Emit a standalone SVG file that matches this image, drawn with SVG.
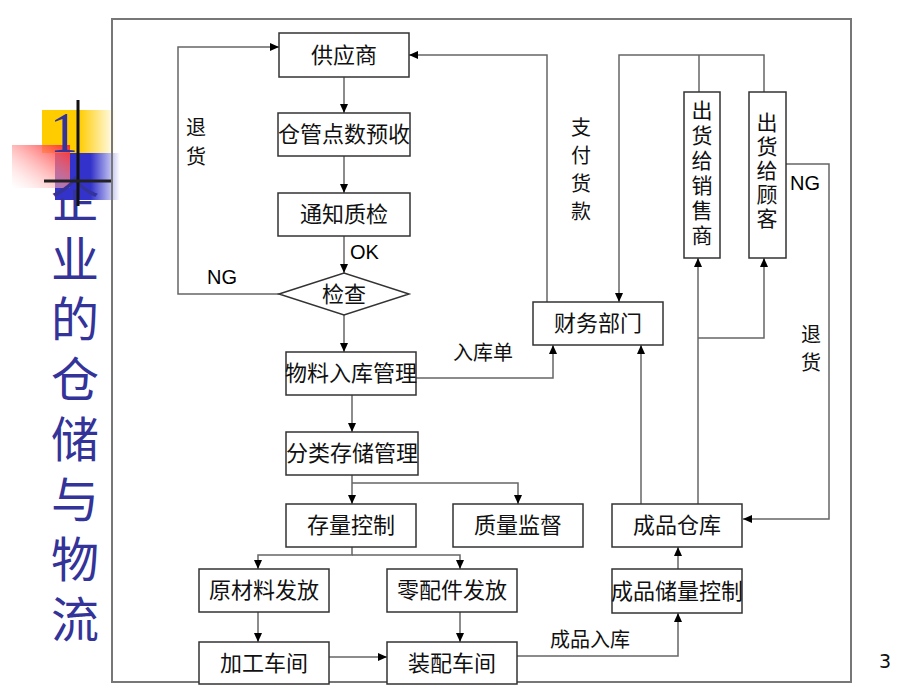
<svg xmlns="http://www.w3.org/2000/svg" width="920" height="690" viewBox="0 0 920 690">
<defs>
<marker id="ah" markerUnits="userSpaceOnUse" markerWidth="10" markerHeight="10" refX="9" refY="4" orient="auto">
<path d="M0,0 L9,4 L0,8 Z" fill="#000"/>
</marker>
<linearGradient id="gy" x1="0" y1="0" x2="1" y2="0">
<stop offset="0" stop-color="#FFCC00"/><stop offset="0.5" stop-color="#FFCC00"/><stop offset="1" stop-color="#FFFFFF"/>
</linearGradient>
<linearGradient id="gb" x1="0" y1="0" x2="1" y2="0">
<stop offset="0" stop-color="#3333CC"/><stop offset="0.55" stop-color="#3333CC"/><stop offset="1" stop-color="#FFFFFF"/>
</linearGradient>
<linearGradient id="gr" x1="1" y1="0" x2="0" y2="1">
<stop offset="0" stop-color="#FF2A2A"/><stop offset="1" stop-color="#FFFFFF" stop-opacity="0.3"/>
</linearGradient>
<style>
.box{fill:#fff;stroke:#333;stroke-width:1.5}
.t{font-family:"Noto Sans CJK SC","Liberation Sans",sans-serif;font-size:22px;fill:#111;text-anchor:middle}
.v{font-family:"Noto Sans CJK SC","Liberation Sans",sans-serif;font-size:21px;fill:#111;text-anchor:middle;writing-mode:vertical-rl}
.lab{font-family:"Noto Sans CJK SC","Liberation Sans",sans-serif;font-size:20px;fill:#111;text-anchor:middle}
.en{font-family:"Liberation Sans",Arial,sans-serif;font-size:20px;fill:#000}
.c{fill:none;stroke:#666;stroke-width:1.5}
.ca{fill:none;stroke:#666;stroke-width:1.5;marker-end:url(#ah)}
.title{font-family:"Noto Sans CJK SC","Liberation Serif",serif;font-size:48px;fill:#333399;text-anchor:middle;writing-mode:vertical-rl}
</style>
</defs>
<rect width="920" height="690" fill="#fff"/>
<g id="decoration">
<rect x="42" y="110" width="74" height="43" fill="url(#gy)"/>
<rect x="55" y="153" width="65" height="47" fill="url(#gb)"/>
<rect x="12" y="145" width="58" height="43" fill="url(#gr)"/>
<text x="64" y="152" style="font-family:'Liberation Serif',serif;font-size:56px;fill:#333399;text-anchor:middle">1</text>
</g>
<g id="title">
<text class="title" x="75" y="415" letter-spacing="12">企业的仓储与物流</text>
</g>
<g id="deco-lines">
<line x1="78" y1="100" x2="78" y2="206" stroke="#111" stroke-width="3"/>
<line x1="44" y1="181" x2="112" y2="181" stroke="#222" stroke-width="3"/>
</g>
<rect id="frame" x="112" y="19" width="739" height="663" fill="none" stroke="#777" stroke-width="2"/>
<text x="885" y="668" style="font-family:'DejaVu Sans',sans-serif;font-size:19px;fill:#111;text-anchor:middle">3</text>

<g id="connectors">
<path class="ca" d="M344,77 V113"/>
<path class="ca" d="M344,156 V193"/>
<path class="ca" d="M344,236 V273"/>
<path class="ca" d="M279,294 H178 V47 H279"/>
<path class="ca" d="M344,315 V352"/>
<path class="ca" d="M416,378 H553 V345"/>
<path class="ca" d="M352,395 V432"/>
<path class="ca" d="M352,475 V504"/>
<path class="ca" d="M352,483 H518 V504"/>
<path class="ca" d="M352,547 V555 H258 V569"/>
<path class="ca" d="M352,555 H460 V569"/>
<path class="ca" d="M258,612 V642"/>
<path class="ca" d="M460,612 V642"/>
<path class="ca" d="M329,657 H387"/>
<path class="ca" d="M517,656 H678 V613"/>
<path class="ca" d="M678,569 V547"/>
<path class="ca" d="M641,504 V345"/>
<path class="ca" d="M698,504 V258"/>
<path class="ca" d="M698,338 H764 V258"/>
<path class="c" d="M699,92 V55"/>
<path class="ca" d="M764,92 V55 H619 V302"/>
<path class="ca" d="M547,302 V55 H409"/>
<path class="ca" d="M786,164 H829 V519 H743"/>
</g>

<g id="labels">
<text class="en" x="350" y="259">OK</text>
<text class="en" x="207" y="284">NG</text>
<text class="lab" x="196" y="135">退</text>
<text class="lab" x="196" y="164">货</text>
<text class="lab" x="581" y="135">支</text>
<text class="lab" x="581" y="163">付</text>
<text class="lab" x="581" y="191">货</text>
<text class="lab" x="581" y="219">款</text>
<text class="lab" x="483" y="360">入库单</text>
<text class="en" x="790" y="190">NG</text>
<text class="lab" x="811" y="342">退</text>
<text class="lab" x="811" y="370">货</text>
<text class="lab" x="590" y="647">成品入库</text>
</g>

<g id="n-supplier"><rect class="box" x="279" y="33" width="130" height="44"/><text class="t" x="344" y="63">供应商</text></g>
<g id="n-precheck"><rect class="box" x="278" y="113" width="132" height="43"/><text class="t" x="344" y="142">仓管点数预收</text></g>
<g id="n-notify"><rect class="box" x="278" y="193" width="132" height="43"/><text class="t" x="344" y="222">通知质检</text></g>
<g id="n-inspect"><polygon class="box" points="279,294 344,273 409,294 344,315"/><text class="t" x="344" y="302">检查</text></g>
<g id="n-inbound"><rect class="box" x="286" y="352" width="130" height="43"/><text class="t" x="351" y="381">物料入库管理</text></g>
<g id="n-classify"><rect class="box" x="286" y="432" width="132" height="43"/><text class="t" x="352" y="461">分类存储管理</text></g>
<g id="n-stockctrl"><rect class="box" x="286" y="504" width="130" height="43"/><text class="t" x="351" y="533">存量控制</text></g>
<g id="n-quality"><rect class="box" x="453" y="504" width="130" height="43"/><text class="t" x="518" y="533">质量监督</text></g>
<g id="n-raw"><rect class="box" x="199" y="569" width="130" height="43"/><text class="t" x="264" y="598">原材料发放</text></g>
<g id="n-parts"><rect class="box" x="387" y="569" width="130" height="43"/><text class="t" x="452" y="598">零配件发放</text></g>
<g id="n-process"><rect class="box" x="199" y="642" width="130" height="42"/><text class="t" x="264" y="671">加工车间</text></g>
<g id="n-assembly"><rect class="box" x="387" y="642" width="130" height="42"/><text class="t" x="452" y="671">装配车间</text></g>
<g id="n-fgctrl"><rect class="box" x="612" y="569" width="130" height="44"/><text class="t" x="677" y="599">成品储量控制</text></g>
<g id="n-fgstore"><rect class="box" x="612" y="504" width="130" height="43"/><text class="t" x="677" y="533">成品仓库</text></g>
<g id="n-finance"><rect class="box" x="533" y="302" width="130" height="43"/><text class="t" x="598" y="331">财务部门</text></g>
<g id="n-dealer"><rect class="box" x="684" y="92" width="36" height="166"/>
<text class="v" x="702" y="175" letter-spacing="4">出货给销售商</text></g>
<g id="n-customer"><rect class="box" x="749" y="92" width="37" height="166"/>
<text class="v" x="767" y="172" letter-spacing="3">出货给顾客</text></g>
</svg>
